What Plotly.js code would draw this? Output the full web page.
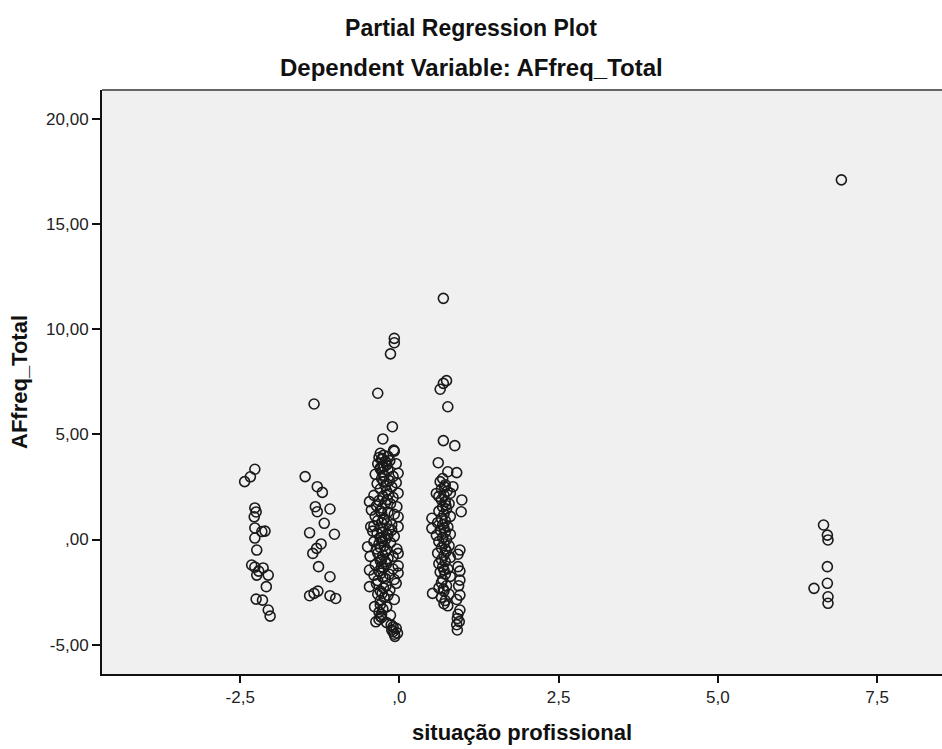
<!DOCTYPE html>
<html>
<head>
<meta charset="utf-8">
<script src="https://cdn.plot.ly/plotly-3.0.1.min.js"></script>
<style>html,body{margin:0;padding:0;background:#fff;}#chart{width:942px;height:749px;}</style>
</head>
<body>
<div id="chart"></div>
<script>
// Cluster around situação ≈ -2.3
const xA = [-2.43,-2.34,-2.27,-2.27,-2.25,-2.28,-2.27,-2.11,-2.16,-2.27,-2.24,-2.32,-2.27,-2.14,-2.24,-2.06,-2.09,-2.25,-2.15,-2.06,-2.03,-2.21];
const yA = [2.75,2.98,3.34,1.50,1.31,1.08,0.55,0.40,0.38,0.07,-0.50,-1.21,-1.31,-1.35,-1.69,-1.69,-2.24,-2.83,-2.88,-3.35,-3.64,-1.50];
// Cluster around situação ≈ -1.3
const xB = [-1.34,-1.48,-1.29,-1.21,-1.32,-1.29,-1.09,-1.18,-1.41,-1.02,-1.23,-1.30,-1.36,-1.27,-1.09,-1.41,-1.28,-1.34,-1.09,-1.00];
const yB = [6.44,2.99,2.51,2.24,1.56,1.32,1.45,0.77,0.32,0.25,-0.21,-0.42,-0.66,-1.29,-1.77,-2.67,-2.45,-2.56,-2.67,-2.80];
// Cluster around situação ≈ -0.2
const xC = [-0.08,-0.08,-0.14,-0.34,-0.11,-0.26,-0.09,
  -0.30,-0.25,-0.18,-0.08,-0.32,-0.27,-0.22,
  -0.28,-0.22,-0.34,-0.15,-0.05,-0.26,-0.20,-0.30,-0.24,
  -0.30,-0.18,-0.02,-0.38,-0.24,-0.10,-0.27,
  -0.28,-0.16,-0.05,-0.35,-0.22,-0.12,-0.25,
  -0.30,-0.20,-0.02,-0.40,-0.26,-0.10,-0.17,
  -0.47,-0.32,-0.22,-0.14,-0.04,-0.36,-0.27,-0.19,
  -0.44,-0.30,-0.18,-0.08,-0.02,-0.38,-0.24,-0.28,
  -0.45,-0.34,-0.28,-0.20,-0.12,-0.02,-0.40,-0.30,-0.16,-0.24,
  -0.42,-0.35,-0.26,-0.18,-0.08,-0.30,-0.22,-0.12,-0.28,-0.20,
  -0.50,-0.40,-0.32,-0.24,-0.14,-0.04,-0.36,-0.20,-0.27,-0.30,
  -0.46,-0.34,-0.26,-0.02,-0.18,-0.10,-0.30,-0.22,-0.28,
  -0.47,-0.38,-0.28,-0.20,-0.10,-0.02,-0.32,-0.25,-0.22,
  -0.40,-0.26,-0.16,-0.02,-0.34,-0.08,-0.22,-0.29,
  -0.47,-0.36,-0.25,-0.05,-0.15,-0.30,-0.21,
  -0.34,-0.24,-0.30,-0.18,-0.08,-0.27,
  -0.39,-0.30,-0.26,-0.32,-0.20,-0.28,
  -0.37,-0.28,-0.32,-0.14,-0.20,-0.30,
  -0.13,-0.10,-0.05,-0.08,-0.12,-0.03,-0.07,-0.10];
const yC = [9.56,9.35,8.82,6.95,5.36,4.78,4.25,
  4.10,4.00,3.95,4.20,3.90,3.85,3.70,
  3.80,3.70,3.60,3.75,3.60,3.50,3.55,3.40,3.45,
  3.35,3.30,3.15,3.10,3.05,3.00,3.20,
  2.90,2.80,2.70,2.65,2.55,2.50,2.75,
  2.40,2.30,2.20,2.10,2.05,2.00,2.15,
  1.80,1.85,1.75,1.70,1.56,1.60,1.50,1.90,
  1.40,1.35,1.30,1.20,1.08,1.10,1.00,1.25,
  0.61,0.90,0.80,0.75,0.70,0.61,0.65,0.55,0.50,0.95,
  0.40,0.30,0.35,0.20,0.15,0.05,0.00,0.45,0.10,0.25,
  -0.34,-0.10,-0.20,-0.30,-0.15,-0.45,-0.45,-0.50,-0.05,-0.38,
  -0.80,-0.65,-0.75,-0.66,-0.90,-0.80,-1.00,-0.58,-0.95,
  -1.45,-1.20,-1.30,-1.15,-1.40,-1.25,-1.50,-1.35,-1.05,
  -1.70,-1.80,-1.65,-1.59,-1.95,-1.90,-1.85,-1.60,
  -2.24,-2.10,-2.30,-2.08,-2.40,-2.45,-2.20,
  -2.60,-2.75,-2.90,-2.65,-2.85,-2.55,
  -3.19,-3.10,-3.30,-3.45,-3.20,-3.55,
  -3.91,-3.70,-3.80,-3.60,-3.95,-3.65,
  -4.06,-4.38,-4.22,-4.50,-4.30,-4.45,-4.60,-4.15];
// Cluster around situação ≈ 0.7
const xD = [0.69,0.74,0.69,0.64,0.76,0.69,0.87,0.61,0.76,0.90,0.64,0.84,0.58,0.98,0.97,0.51,0.51,0.52,
  0.68,0.72,0.66,0.75,0.70,0.80,0.62,0.71,
  0.66,0.72,0.78,0.68,0.74,0.62,0.70,0.80,0.66,0.73,
  0.72,0.60,0.68,0.76,0.64,0.72,0.80,0.58,0.68,0.74,0.70,
  0.62,0.70,0.78,0.66,0.74,0.60,0.70,0.80,0.66,0.95,0.92,0.72,
  0.72,0.62,0.68,0.76,0.64,0.72,0.80,0.68,0.92,0.95,0.70,
  0.66,0.74,0.62,0.70,0.78,0.66,0.72,0.95,0.93,0.95,0.90,0.69,
  0.70,0.76,0.95,0.92,0.91,0.94,0.90,0.91];
const yD = [11.46,7.55,7.42,7.14,6.31,4.70,4.46,3.65,3.22,3.18,2.75,2.51,2.19,1.88,1.32,1.01,0.53,-2.56,
  2.90,2.60,2.40,2.30,2.10,2.20,2.05,2.50,
  1.90,1.80,1.70,1.55,1.45,1.35,1.20,1.10,1.00,1.62,
  0.90,0.80,0.70,0.60,0.45,0.35,0.25,0.20,0.10,0.00,0.55,
  -0.10,-0.20,-0.30,-0.40,-0.55,-0.65,-0.75,-0.85,-0.95,-0.50,-0.70,-0.45,
  -1.05,-1.15,-1.30,-1.40,-1.55,-1.65,-1.75,-1.90,-1.29,-1.50,-1.45,
  -2.05,-2.20,-2.30,-2.45,-2.60,-2.75,-2.90,-1.93,-2.20,-2.64,-2.85,-2.35,
  -3.05,-3.15,-3.35,-3.55,-3.75,-3.90,-4.05,-4.30];
// Cluster around situação ≈ 6.7
const xE = [6.94,6.66,6.72,6.73,6.72,6.72,6.51,6.73,6.73];
const yE = [17.09,0.69,0.21,-0.02,-1.29,-2.08,-2.32,-2.72,-3.03];

const xTickVals = [-2.5, 0, 2.5, 5, 7.5];
const xTickText = ['-2,5', ',0', '2,5', '5,0', '7,5'];
const yTickVals = [-5, 0, 5, 10, 15, 20];
const yTickText = ['-5,00', ',00', '5,00', '10,00', '15,00', '20,00'];

const xs = [].concat(xA, xB, xC, xD, xE);
const ys = [].concat(yA, yB, yC, yD, yE);

const FONT = 'Arial, "Liberation Sans", sans-serif';

const trace = {
  x: xs, y: ys, type: 'scatter', mode: 'markers',
  marker: {symbol: 'circle-open', size: 10, color: '#1a1a1a', line: {width: 1.6, color: '#1a1a1a'}},
  hoverinfo: 'x+y'
};

const layout = {
  width: 942, height: 749,
  margin: {l: 102, r: 0, t: 90, b: 75},
  paper_bgcolor: '#ffffff',
  plot_bgcolor: '#f0f0f0',
  showlegend: false,
  font: {family: FONT, color: '#222'},
  title: {
    text: '<b>Partial Regression Plot</b>',
    font: {family: FONT, size: 23, color: '#111'},
    x: 0.5, xref: 'container', xanchor: 'center',
    y: 1 - 28/749, yref: 'container', yanchor: 'middle'
  },
  annotations: [{
    text: '<b>Dependent Variable: AFfreq_Total</b>',
    font: {family: FONT, size: 24, color: '#111'},
    xref: 'paper', yref: 'paper', x: (471 - 102)/840, y: (674 - 68)/584,
    xanchor: 'center', yanchor: 'middle', showarrow: false
  }],
  xaxis: {
    range: [-4.67, 8.52],
    tickvals: xTickVals, ticktext: xTickText,
    ticks: 'outside', ticklen: 7, tickwidth: 2, tickcolor: '#111',
    showline: true, linecolor: '#111', linewidth: 2,
    showgrid: false, zeroline: false,
    tickfont: {family: FONT, size: 17, color: '#222'},
    title: {text: '<b>situação profissional</b>', font: {family: FONT, size: 22, color: '#111'}, standoff: 18}
  },
  yaxis: {
    range: [-6.39, 21.36],
    tickvals: yTickVals, ticktext: yTickText,
    ticks: 'outside', ticklen: 8, tickwidth: 2, tickcolor: '#111',
    showline: true, linecolor: '#111', linewidth: 2,
    showgrid: false, zeroline: false,
    tickfont: {family: FONT, size: 17, color: '#222'},
    title: {text: '<b>AFfreq_Total</b>', font: {family: FONT, size: 22, color: '#111'}, standoff: 12}
  },
  shapes: [{
    type: 'line', xref: 'paper', yref: 'paper', x0: 0, x1: 1, y0: 1, y1: 1,
    line: {color: '#666', width: 2}
  }]
};

Plotly.newPlot('chart', [trace], layout, {staticPlot: true, displayModeBar: false});
</script>
</body>
</html>
